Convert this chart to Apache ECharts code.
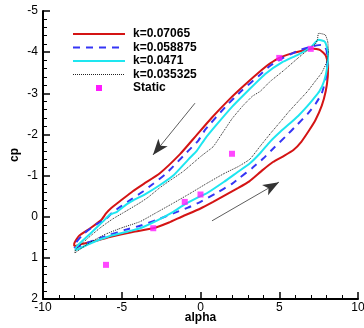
<!DOCTYPE html>
<html><head><meta charset="utf-8">
<script src="https://cdn.jsdelivr.net/npm/echarts@6/dist/echarts.min.js"></script>
<style>html,body{margin:0;padding:0;background:#fff}#c{width:364px;height:328px}</style>
</head><body><div id="c"></div>
<script>
// series names
const names = ['k=0.07065', 'k=0.058875', 'k=0.0471', 'k=0.035325', 'Static'];
// axis ticks
const xTicks = [-10, -5, 0, 5, 10];
const yTicks = [-5, -4, -3, -2, -1, 0, 1, 2];
// [alpha, cp] loops: upstroke then downstroke
const red = [[-8.02,0.72],[-7.5,0.66],[-6.5,0.57],[-5.7,0.49],[-4.3,0.37],[-3.0,0.28],[-2.0,0.14],[-1.2,0.0],[0,-0.2],[0.8,-0.36],[1.6,-0.53],[2.4,-0.7],[3.1,-0.86],[3.9,-1.12],[4.6,-1.33],[5.3,-1.48],[5.9,-1.62],[6.4,-1.82],[6.9,-2.1],[7.3,-2.35],[7.7,-2.7],[7.95,-3.05],[8.08,-3.4],[8.1,-3.7],[7.95,-3.92],[7.6,-4.05],[7.1,-4.09],
  [6.5,-4.04],[5.8,-3.97],[5.0,-3.86],[4.4,-3.72],[3.9,-3.57],[2.8,-3.2],[1.8,-2.84],[0.7,-2.4],[-0.3,-1.96],[-1.3,-1.52],[-2.6,-1.05],[-3.6,-0.8],[-4.3,-0.62],[-5.1,-0.38],[-5.7,-0.2],[-6.0,-0.08],[-6.3,0.08],[-7.0,0.28],[-7.7,0.46],[-8.02,0.66],[-8.02,0.72]];
const blue = [[-8.0,0.76],[-7.2,0.64],[-6.4,0.52],[-5.75,0.44],[-4.8,0.32],[-3.84,0.22],[-2.8,0.08],[-1.73,-0.08],[-0.8,-0.22],[0,-0.36],[0.94,-0.56],[2.0,-0.8],[2.5,-0.95],[3.27,-1.18],[4.0,-1.42],[4.62,-1.66],[5.4,-1.95],[6.1,-2.22],[6.8,-2.5],[7.3,-2.74],[7.7,-3.0],[7.95,-3.35],[8.05,-3.75],[8.0,-4.05],[7.75,-4.18],[7.2,-4.15],
  [6.23,-4.04],[5.3,-3.87],[4.43,-3.67],[3.69,-3.42],[2.63,-3.07],[1.58,-2.67],[0.31,-2.12],[-0.14,-1.85],[-0.78,-1.6],[-2.15,-1.06],[-3.0,-0.8],[-3.63,-0.62],[-4.4,-0.42],[-5.1,-0.24],[-5.6,-0.1],[-6.0,0.05],[-6.6,0.18],[-7.44,0.42],[-7.97,0.66],[-8.0,0.76]];
const cyan = [[-7.95,0.82],[-7.0,0.65],[-5.75,0.47],[-4.6,0.36],[-3.84,0.28],[-2.8,0.1],[-1.73,-0.12],[-1.0,-0.3],[0,-0.5],[0.4,-0.57],[1.5,-0.85],[2.3,-1.07],[3.14,-1.3],[3.8,-1.55],[4.41,-1.82],[5.0,-2.04],[5.68,-2.27],[6.2,-2.45],[6.74,-2.67],[7.16,-2.86],[7.55,-3.05],[7.85,-3.3],[8.05,-3.65],[8.1,-4.0],[7.9,-4.25],[7.5,-4.3],
  [7.0,-4.12],[6.2,-3.94],[5.17,-3.75],[4.11,-3.47],[3.06,-3.08],[2.0,-2.67],[0.94,-2.2],[0.3,-1.9],[-0.24,-1.6],[-0.75,-1.4],[-1.73,-1.0],[-2.57,-0.77],[-3.5,-0.55],[-4.27,-0.4],[-4.7,-0.3],[-5.3,-0.12],[-5.75,-0.05],[-6.2,0.12],[-7.02,0.42],[-7.86,0.72],[-7.95,0.82]];
const black = [[-7.97,0.88],[-7.0,0.62],[-6.0,0.42],[-5.0,0.27],[-3.84,0.12],[-2.8,-0.1],[-1.73,-0.33],[-0.6,-0.58],[0.4,-0.81],[1.5,-1.05],[2.4,-1.22],[3.14,-1.4],[3.8,-1.72],[4.5,-2.05],[5.1,-2.32],[5.6,-2.55],[6.2,-2.8],[6.8,-3.05],[7.3,-3.3],[7.7,-3.5],[8.0,-3.75],[8.12,-4.0],[8.08,-4.25],[7.92,-4.42],[7.5,-4.46],[7.42,-4.3],[7.3,-4.2],
  [7.06,-4.13],[6.2,-3.86],[5.3,-3.56],[4.4,-3.28],[3.8,-3.05],[3.3,-2.93],[2.7,-2.7],[2.0,-2.38],[1.3,-1.98],[0.8,-1.7],[0.3,-1.55],[0,-1.46],[-1.1,-1.1],[-1.94,-0.88],[-2.6,-0.7],[-3.3,-0.48],[-3.84,-0.34],[-4.8,-0.12],[-5.6,0.06],[-6.4,0.28],[-7.2,0.54],[-7.97,0.84],[-7.97,0.88]];
const staticPts = [[-6,1.17],[-3,0.28],[-1,-0.36],[0,-0.54],[2,-1.53],[5,-3.86],[7,-4.08]];
// direction arrows [from, to] in data units
const arrowUp = [[0.73,0.10],[4.98,-0.84]];
const arrowDown = [[-0.35,-2.76],[-3.02,-1.50]];

const FONT = 'Liberation Sans, Arial, sans-serif';
const colors = ['#d41414', '#3535f5', '#1ee6f0', '#222222', '#ff1aff'];
const dashes = [null, [7,6], null, [1,1]];
const widths = [2, 2, 2, 1];

const chart = echarts.init(document.getElementById('c'), null, {renderer:'canvas'});
function lineSeries(i, data) {
  return {name:names[i], type:'line', data, symbol:'none', showSymbol:false, smooth:0.15, z:3,
    lineStyle:{color:colors[i], width:widths[i], type:dashes[i] || 'solid'}, itemStyle:{color:colors[i]}};
}
// manual legend
const legendEls = [];
const lx = 73, lw = 52, ly0 = 34, lstep = 13.5;
names.forEach((n, i) => {
  const y = ly0 + i * lstep;
  if (i < 4) {
    legendEls.push({type:'line', shape:{x1:lx, y1:y, x2:lx + lw, y2:y},
      style:{stroke:colors[i], lineWidth:widths[i], lineDash:dashes[i] || null}, z:10});
  } else {
    legendEls.push({type:'rect', shape:{x:lx + lw/2 - 3, y:y - 3, width:6, height:6},
      style:{fill:colors[i]}, z:10});
  }
  legendEls.push({type:'text', x:lx + lw + 8, y:y,
    style:{text:n, fill:'#000', font:'bold 12px ' + FONT, textVerticalAlign:'middle', verticalAlign:'middle'}, z:10});
});

chart.setOption({
  animation:false,
  grid:{left:43, right:6, top:11, bottom:29, outerBoundsMode:'none', containLabel:false},
  graphic:legendEls,
  xAxis:{type:'value', min:xTicks[0], max:xTicks[xTicks.length-1], interval:5,
    name:'alpha', nameLocation:'middle', nameGap:13, nameMoveOverlap:false,
    nameTextStyle:{fontFamily:FONT, fontWeight:'bold', fontSize:12, color:'#000'},
    axisLine:{onZero:false, lineStyle:{color:'#000', width:2}},
    axisTick:{inside:true, length:7, lineStyle:{color:'#000', width:1.5}},
    minorTick:{show:true, splitNumber:5, length:4, lineStyle:{color:'#000', width:1}},
    axisLabel:{fontFamily:FONT, fontSize:12, color:'#000', margin:3},
    splitLine:{show:false}},
  yAxis:{type:'value', inverse:true, min:yTicks[0], max:yTicks[yTicks.length-1], interval:1,
    name:'cp', nameLocation:'middle', nameGap:22, nameRotate:90, nameMoveOverlap:false,
    nameTextStyle:{fontFamily:FONT, fontWeight:'bold', fontSize:12, color:'#000'},
    axisLine:{onZero:false, lineStyle:{color:'#000', width:2}},
    axisTick:{inside:true, length:7, lineStyle:{color:'#000', width:1.5}},
    minorTick:{show:true, splitNumber:5, length:4, lineStyle:{color:'#000', width:1}},
    axisLabel:{fontFamily:FONT, fontSize:12, color:'#000', margin:5},
    splitLine:{show:false}},
  series:[
    lineSeries(0, red),
    lineSeries(1, blue),
    lineSeries(2, cyan),
    lineSeries(3, black),
    {name:names[4], type:'scatter', data:staticPts, symbol:'rect', symbolSize:6,
      itemStyle:{color:colors[4]}, z:5},
    {type:'line', data:[], silent:true,
      markLine:{silent:true, symbol:['none','arrow'], symbolSize:[9,16], label:{show:false},
        lineStyle:{color:'#333', width:0.8, type:'solid'},
        data:[[{coord:arrowUp[0]},{coord:arrowUp[1]}],[{coord:arrowDown[0]},{coord:arrowDown[1]}]]}}
  ]
});
</script></body></html>
